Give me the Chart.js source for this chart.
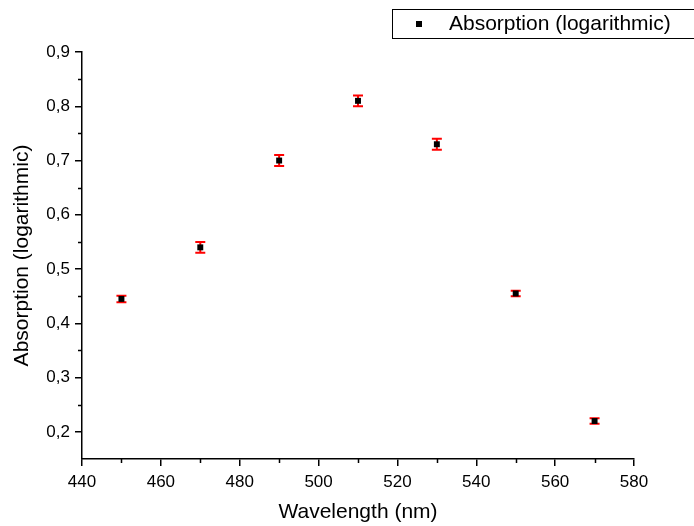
<!DOCTYPE html>
<html>
<head>
<meta charset="utf-8">
<script src="https://cdn.jsdelivr.net/npm/chart.js@4/dist/chart.umd.min.js"></script>
<style>
html,body{margin:0;padding:0;background:#fff;}
#wrap{width:694px;height:526px;position:relative;}
</style>
</head>
<body>
<div id="wrap"><canvas id="c" width="694" height="526"></canvas></div>
<script>
const wavelengths = [450, 470, 490, 510, 530, 550, 570];
const absorption = [0.445, 0.540, 0.700, 0.810, 0.730, 0.455, 0.220];
const errors = [0.006, 0.010, 0.010, 0.010, 0.010, 0.005, 0.005];
const xTicks = [440, 460, 480, 500, 520, 540, 560, 580];
const xMinorTicks = [450, 470, 490, 510, 530, 550, 570];
const yTicks = [0.2, 0.3, 0.4, 0.5, 0.6, 0.7, 0.8, 0.9];
const yMinorTicks = [0.25, 0.35, 0.45, 0.55, 0.65, 0.75, 0.85];
const seriesLabel = 'Absorption (logarithmic)';
const xTitle = 'Wavelength (nm)';
const yTitle = 'Absorption (logarithmic)';

const FONT = '"Liberation Sans", Arial, sans-serif';

const errorBars = {
  id: 'errorBars',
  beforeDatasetsDraw(chart) {
    const ctx = chart.ctx, xs = chart.scales.x, ys = chart.scales.y;
    ctx.save();
    ctx.strokeStyle = '#ff0000';
    ctx.lineWidth = 2;
    wavelengths.forEach((w, i) => {
      const x = xs.getPixelForValue(w);
      const y1 = ys.getPixelForValue(absorption[i] + errors[i]);
      const y2 = ys.getPixelForValue(absorption[i] - errors[i]);
      ctx.beginPath();
      ctx.moveTo(x, y1); ctx.lineTo(x, y2);
      ctx.moveTo(x - 5, y1); ctx.lineTo(x + 5, y1);
      ctx.moveTo(x - 5, y2); ctx.lineTo(x + 5, y2);
      ctx.stroke();
    });
    ctx.restore();
  }
};

const minorTicks = {
  id: 'minorTicks',
  afterDraw(chart) {
    const ctx = chart.ctx, xs = chart.scales.x, ys = chart.scales.y;
    const area = chart.chartArea;
    ctx.save();
    ctx.strokeStyle = '#000';
    ctx.lineWidth = 1.5;
    ctx.beginPath();
    xMinorTicks.forEach(v => {
      const x = Math.round(xs.getPixelForValue(v)) + 0.5;
      ctx.moveTo(x, area.bottom); ctx.lineTo(x, area.bottom + 4);
    });
    yMinorTicks.forEach(v => {
      const y = Math.round(ys.getPixelForValue(v)) + 0.5;
      ctx.moveTo(area.left, y); ctx.lineTo(area.left - 4, y);
    });
    ctx.stroke();
    // legend
    ctx.lineWidth = 1;
    ctx.strokeRect(392.5, 9.5, 320, 29);
    ctx.fillStyle = '#000';
    ctx.fillRect(416, 21, 6, 6);
    ctx.font = '21px ' + FONT;
    ctx.textBaseline = 'middle';
    ctx.textAlign = 'left';
    ctx.fillText(seriesLabel, 449, 24.5);
    ctx.restore();
  }
};

new Chart(document.getElementById('c'), {
  type: 'scatter',
  data: {
    datasets: [{
      label: seriesLabel,
      data: wavelengths.map((w, i) => ({x: w, y: absorption[i]})),
      pointStyle: 'rect',
      pointRadius: 4.2,
      pointBackgroundColor: '#000',
      pointBorderColor: '#000',
      pointBorderWidth: 0,
      showLine: false
    }]
  },
  options: {
    responsive: false,
    animation: false,
    layout: {padding: {top: 52, right: 60, left: 0, bottom: 0}},
    plugins: {legend: {display: false}, tooltip: {enabled: false}},
    scales: {
      x: {
        type: 'linear', min: 440, max: 580,
        afterBuildTicks(s) { s.ticks = xTicks.map(v => ({value: v})); },
        afterFit(s) { s.height = 67; },
        border: {display: true, color: '#000', width: 1.5},
        grid: {display: true, drawOnChartArea: false, drawTicks: true, tickLength: 7, color: '#000', lineWidth: 1.5},
        ticks: {color: '#000', font: {family: FONT, size: 17}, padding: 6, maxRotation: 0},
        title: {display: true, text: xTitle, color: '#000', font: {family: FONT, size: 21}, padding: {top: 0, bottom: 1}}
      },
      y: {
        type: 'linear', min: 0.15, max: 0.9,
        afterBuildTicks(s) { s.ticks = yTicks.map(v => ({value: v})); },
        afterFit(s) { s.width = 82; },
        border: {display: true, color: '#000', width: 1.5},
        grid: {display: true, drawOnChartArea: false, drawTicks: true, tickLength: 7, color: '#000', lineWidth: 1.5},
        ticks: {color: '#000', font: {family: FONT, size: 17}, padding: 5,
          callback: v => v.toFixed(1).replace('.', ',')},
        title: {display: true, text: yTitle, color: '#000', font: {family: FONT, size: 21}, padding: {top: 10, bottom: 0}}
      }
    }
  },
  plugins: [errorBars, minorTicks]
});
</script>
</body>
</html>
